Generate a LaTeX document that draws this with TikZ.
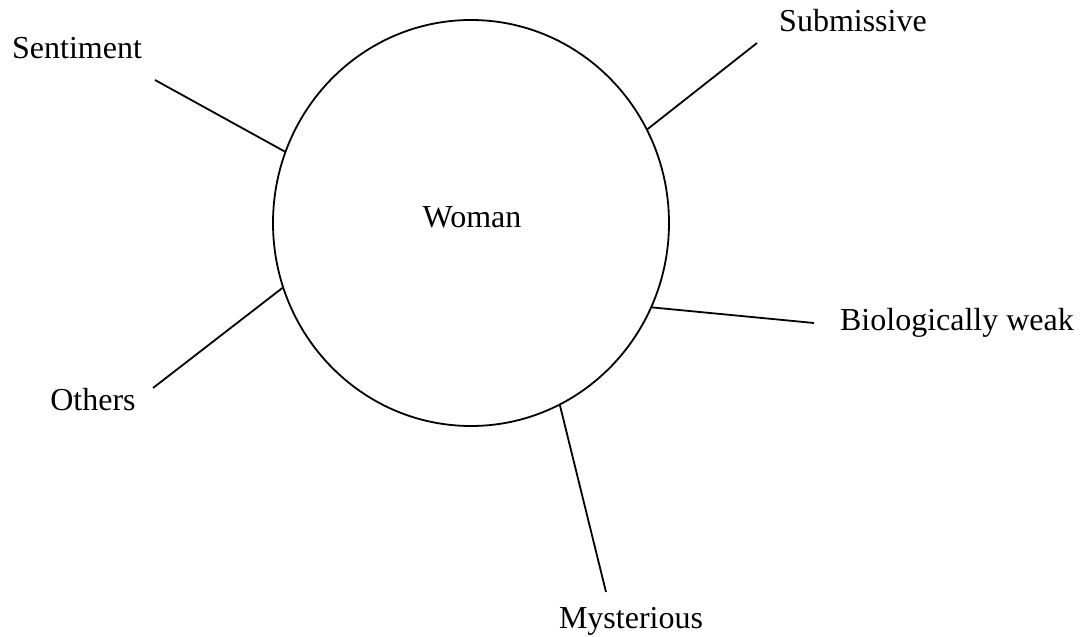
\documentclass[tikz,border=0pt]{standalone}
\usepackage{fontspec}
\setmainfont{Liberation Serif}
\usetikzlibrary{shapes.geometric}

\tikzset{
  word/.style={anchor=base,inner sep=0pt,font=\fontsize{16}{19}\selectfont},
  spoke/.style={line width=0.9pt}
}

\begin{document}
\begin{tikzpicture}[x=0.5pt,y=-0.5pt]
\useasboundingbox (0,0) rectangle (1084,637);

% the centre
\node[draw,ellipse,line width=0.9pt,minimum width=198pt,minimum height=203pt,
      inner sep=0pt] (woman) at (471,223) {};
\node[word] (womanlabel) at (472,227) {Woman};

% labels
\node[word] (sentiment) at (77,58) {Sentiment};
\node[word] (submissive) at (853,32) {Submissive};
\node[word] (weak) at (957,330) {Biologically weak};
\node[word] (mysterious) at (631,628) {Mysterious};
\node[word] (others) at (93,410) {Others};

% free ends of the spokes
\coordinate (sentiment-end) at (155,80);
\coordinate (submissive-end) at (757,43);
\coordinate (weak-end) at (814,323);
\coordinate (mysterious-end) at (606,592);
\coordinate (others-end) at (153,388);

\draw[spoke] (woman.159.5) -- (sentiment-end);
\draw[spoke] (woman.28.2) -- (submissive-end);
\draw[spoke] (woman.335.3) -- (weak-end);
\draw[spoke] (woman.296.4) -- (mysterious-end);
\draw[spoke] (woman.199) -- (others-end);
\end{tikzpicture}
\end{document}
